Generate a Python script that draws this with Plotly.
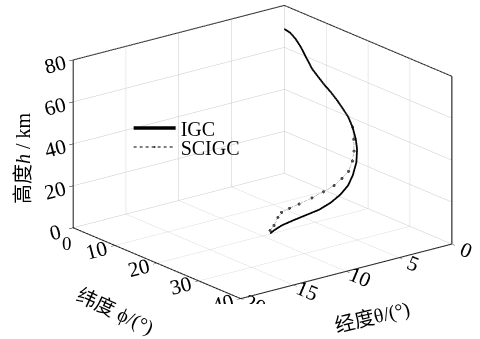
import plotly.graph_objects as go

# Trajectory samples: longitude theta (deg), latitude phi (deg), altitude h (km)
igc_theta = [0, 0.05, 0.1, 0.2, 0.3, 0.45, 0.6, 0.75, 0.9, 1.1, 1.3, 1.55, 1.85,
             2.3, 2.9, 3.8, 4.9, 5.9, 7.0, 8.2, 9.5, 10.9, 12.3, 13.5, 14.3, 14.8]
igc_phi = [0, 1.60, 2.95, 4.43, 5.91, 7.77, 9.62, 11.48, 13.34, 15.33, 17.31, 19.19, 20.95,
           22.86, 24.68, 26.79, 28.70, 30.10, 31.04, 31.74, 32.22, 32.72, 33.22, 33.44, 33.59, 33.93]
igc_h = [68.77, 68.25, 66.6, 64.17, 60.8, 56.88, 54.8, 52.75, 51.16, 49.26, 46.9, 44.97, 42.08,
         38.55, 36.08, 32.8, 29.59, 27.26, 25.14, 23.42, 22.12, 21.89, 21.65, 20.95, 19.71, 19.19]

scigc_theta = [0, 0.05, 0.1, 0.2, 0.3, 0.45, 0.6, 0.75, 0.9, 1.1, 1.3, 1.55, 1.85,
               2.3, 2.9, 3.7, 4.7, 5.7, 6.8, 8.1, 9.5, 10.9, 12.0, 12.9, 13.5, 14.1, 14.6]
scigc_phi = [0, 1.60, 2.95, 4.43, 5.91, 7.77, 9.62, 11.48, 13.34, 15.33, 17.31, 19.19, 20.95,
             22.37, 23.95, 25.56, 27.2, 28.12, 29.05, 29.78, 30.52, 31.02, 31.46, 31.87, 32.47, 33.07, 33.41]
scigc_h = [68.77, 68.25, 66.6, 64.17, 60.8, 56.88, 54.8, 52.75, 51.16, 49.26, 46.9, 44.97, 42.08,
           38.16, 34.55, 32.15, 30.01, 28.69, 27.5, 26.87, 26.36, 25.66, 25.48, 25.04, 23.91, 21.39, 19.93]

theta_range = [0, 20]
phi_range = [0, 40]
h_range = [0, 80]

SERIF = "Liberation Serif, Times New Roman, serif"
CJK = "Liberation Serif, Noto Sans CJK SC, serif"

fig = go.Figure()

# IGC: solid black line
fig.add_trace(go.Scatter3d(
    x=igc_theta, y=igc_phi, z=igc_h, mode="lines", name="IGC", legend="legend",
    line=dict(color="black", width=3.5), hoverinfo="skip"))

# SCIGC: thin dotted line with dot markers where it departs from IGC
shared = 12
marker_sizes = [0 if i < shared else 3.6 for i in range(len(scigc_h))]
fig.add_trace(go.Scatter3d(
    x=scigc_theta, y=scigc_phi, z=scigc_h, mode="lines+markers", name="SCIGC", legend="legend2",
    line=dict(color="#555555", width=1.5, dash="dot"),
    marker=dict(color="black", size=marker_sizes, line=dict(width=0)),
    hoverinfo="skip"))

# Box frame edges
t0, t1 = theta_range
p0, p1 = phi_range
z0, z1 = h_range
edges = [
    ([t1, t1], [p0, p0], [z0, z1]),   # left vertical
    ([t1, t1], [p0, p1], [z0, z0]),   # front floor edge along phi
    ([t1, t0], [p1, p1], [z0, z0]),   # front floor edge along theta
    ([t0, t0], [p1, p1], [z0, z1]),   # right vertical
    ([t0, t1], [p0, p0], [z1, z1]),   # top of phi=0 wall
    ([t0, t0], [p0, p1], [z1, z1]),   # top of theta=0 wall
]
for ex, ey, ez in edges:
    fig.add_trace(go.Scatter3d(x=ex, y=ey, z=ez, mode="lines", showlegend=False,
                               line=dict(color="black", width=2), hoverinfo="skip"))

tick_font = dict(family=SERIF, size=16, color="black")
axis_common = dict(
    showbackground=False, gridcolor="#c8c8c8", gridwidth=1,
    showline=False, zeroline=False, showspikes=False,
    ticks="inside", ticklen=5, tickcolor="black",
    tickfont=tick_font,
    title=dict(text=""),
)

legend_common = dict(xanchor="left", yanchor="middle", itemwidth=42,
                     bgcolor="rgba(0,0,0,0)", font=dict(family=SERIF, size=20, color="black"))

fig.update_layout(
    width=480, height=339,
    margin=dict(l=0, r=0, t=0, b=0),
    paper_bgcolor="white",
    showlegend=True,
    hovermode=False,
    legend=dict(x=0.268, y=1 - 128 / 339, **legend_common),
    legend2=dict(x=0.268, y=1 - 147 / 339, **legend_common),
    scene=dict(
        domain=dict(x=[0.094, 1.0], y=[0.104, 1.0]),
        xaxis=dict(range=theta_range, dtick=5, **axis_common),
        yaxis=dict(range=phi_range, dtick=10, **axis_common),
        zaxis=dict(range=h_range, dtick=20, **axis_common),
        aspectmode="manual",
        aspectratio=dict(x=1.763, y=1.79, z=1.17),
        camera=dict(
            projection=dict(type="orthographic"),
            eye=dict(x=1.162, y=1.487, z=0.661),
            up=dict(x=0, y=0, z=1),
            center=dict(x=0, y=0, z=0),
        ),
        bgcolor="white",
        # latitude label at the shared corner
        annotations=[dict(x=t1, y=p0, z=z0, text="0", showarrow=False,
                          xshift=-6, yshift=-16, font=dict(family=SERIF, size=19, color="black"))],
    ),
    annotations=[
        dict(text="高度<i>h</i> / km", x=23 / 480, y=1 - 158 / 339, xref="paper", yref="paper",
             xanchor="center", yanchor="middle",
             textangle=-90, showarrow=False, font=dict(family=CJK, size=20, color="black")),
        dict(text="纬度 ϕ/(°)", x=115 / 480, y=1 - 311 / 339, xref="paper", yref="paper",
             xanchor="center", yanchor="middle",
             textangle=25, showarrow=False, font=dict(family=CJK, size=20, color="black")),
        dict(text="经度θ/(°)", x=372 / 480, y=1 - 317 / 339, xref="paper", yref="paper",
             xanchor="center", yanchor="middle",
             textangle=-13.5, showarrow=False, font=dict(family=CJK, size=20, color="black")),
    ],
)

fig.write_html("out.html")
